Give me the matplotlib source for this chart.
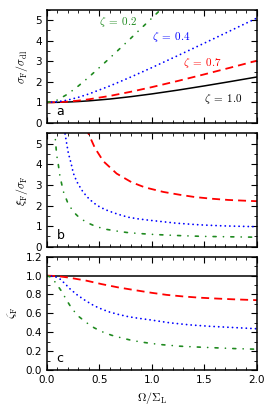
import matplotlib

matplotlib.use("Agg")

import matplotlib.pyplot as plt
from matplotlib.ticker import FormatStrFormatter, MultipleLocator

# panel a: sigma_F / sigma_dl
a_x = [0.0, 0.1, 0.2, 0.3, 0.4, 0.6, 0.8, 1.0, 1.25, 1.5, 1.75, 2.0]
a_z10 = [1.0, 1.005, 1.02, 1.044, 1.077, 1.166, 1.281, 1.414, 1.60, 1.803, 2.016, 2.236]
a_z07 = [1.0, 1.010, 1.040, 1.088, 1.152, 1.317, 1.519, 1.744, 2.047, 2.365, 2.693, 3.027]
a_z04 = [1.0, 1.031, 1.118, 1.25, 1.414, 1.803, 2.236, 2.693, 3.281, 3.881, 4.488, 5.099]
a_z02_x = [0.0, 0.1, 0.2, 0.3, 0.4, 0.6, 0.8, 1.0, 1.25]
a_z02 = [1.0, 1.118, 1.414, 1.803, 2.236, 3.162, 4.123, 5.099, 6.33]

# panel b: xi_F / sigma_F
b_z07_x = [0.38, 0.39, 0.457, 0.537, 0.664, 0.806, 0.933, 1.108, 1.267, 1.41, 1.568, 1.727, 1.9, 2.0]
b_z07 = [5.8, 5.55, 4.79, 4.15, 3.55, 3.13, 2.88, 2.66, 2.52, 2.41, 2.33, 2.27, 2.23, 2.21]
b_z04_x = [0.165, 0.187, 0.203, 0.229, 0.251, 0.283, 0.33, 0.378, 0.441, 0.505, 0.584,
           0.679, 0.775, 0.87, 0.965, 1.235, 1.457, 1.68, 2.0]
b_z04 = [5.7, 5.03, 4.55, 4.06, 3.57, 3.17, 2.76, 2.44, 2.14, 1.92, 1.74,
         1.57, 1.43, 1.35, 1.29, 1.14, 1.06, 1.01, 0.97]
b_z02_x = [0.072, 0.092, 0.108, 0.124, 0.156, 0.197, 0.25, 0.314, 0.394, 0.473, 0.568,
           0.663, 0.76, 0.854, 0.95, 1.03, 1.3, 1.49, 1.68, 2.0]
b_z02 = [5.7, 4.46, 3.98, 3.41, 2.68, 2.14, 1.70, 1.38, 1.14, 0.97, 0.84,
         0.76, 0.69, 0.65, 0.615, 0.59, 0.53, 0.50, 0.485, 0.46]

# panel c: zeta_F
c_z10_x = [0.0, 2.0]
c_z10 = [1.0, 1.0]
c_z07_x = [0.0, 0.1, 0.203, 0.378, 0.521, 0.679, 0.838, 0.997, 1.14, 1.3, 1.457, 1.616, 1.775, 2.0]
c_z07 = [1.0, 0.995, 0.98, 0.946, 0.91, 0.875, 0.846, 0.818, 0.796, 0.779, 0.766, 0.757, 0.749, 0.74]
c_z04_x = [0.0, 0.076, 0.124, 0.171, 0.219, 0.283, 0.346, 0.425, 0.489, 0.584, 0.679,
           0.775, 0.87, 0.965, 1.17, 1.36, 1.55, 1.74, 2.0]
c_z04 = [1.0, 0.99, 0.964, 0.915, 0.86, 0.80, 0.75, 0.696, 0.66, 0.618, 0.589,
         0.565, 0.548, 0.534, 0.50, 0.478, 0.463, 0.452, 0.437]
c_z02_x = [0.0, 0.044, 0.092, 0.14, 0.187, 0.235, 0.298, 0.378, 0.451, 0.537, 0.616,
           0.711, 0.806, 0.901, 0.981, 1.076, 1.267, 1.457, 1.648, 1.806, 2.0]
c_z02 = [1.0, 0.98, 0.91, 0.832, 0.74, 0.654, 0.571, 0.50, 0.446, 0.40, 0.368,
         0.34, 0.314, 0.296, 0.283, 0.27, 0.252, 0.242, 0.233, 0.226, 0.22]

GREEN = "#1f8a1f"
STYLES = {
    "1.0": dict(color="black", linestyle="-", linewidth=1.1),
    "0.7": dict(color="red", linestyle=(0, (4.4, 2.8)), linewidth=1.3),
    "0.4": dict(color="blue", linestyle=(0, (0.05, 2.5)), linewidth=1.3,
                dash_capstyle="round"),
    "0.2": dict(color=GREEN, linestyle=(0, (1.8, 4.4, 0.05, 4.4)), linewidth=1.2,
                dash_capstyle="round"),
}

plt.rcParams.update({
    "font.family": "DejaVu Sans",
    "font.size": 7.5,
    "mathtext.fontset": "cm",
    "xtick.direction": "in",
    "ytick.direction": "in",
    "xtick.top": True,
    "ytick.right": True,
    "xtick.major.size": 4,
    "ytick.major.size": 4,
    "xtick.minor.size": 2,
    "ytick.minor.size": 2,
    "axes.linewidth": 1.1,
})

fig = plt.figure(figsize=(2.74, 4.11), dpi=100)
left, width, height = 0.1715, 0.766, 0.2755
ax_a = fig.add_axes([left, 0.7007, width, height])
ax_b = fig.add_axes([left, 0.3998, width, height])
ax_c = fig.add_axes([left, 0.0998, width, height])

ax_a.plot(a_x, a_z10, **STYLES["1.0"])
ax_a.plot(a_x, a_z07, **STYLES["0.7"])
ax_a.plot(a_x, a_z04, **STYLES["0.4"])
ax_a.plot(a_z02_x, a_z02, **STYLES["0.2"])
ax_a.text(0.5, 4.92, r"$\zeta\;=\;0.2$", color=GREEN, fontsize=8, va="center")
ax_a.text(1.0, 4.19, r"$\zeta\;=\;0.4$", color="blue", fontsize=8, va="center")
ax_a.text(1.3, 2.9, r"$\zeta\;=\;0.7$", color="red", fontsize=8, va="center")
ax_a.text(1.5, 1.17, r"$\zeta\;=\;1.0$", color="black", fontsize=8, va="center")
ax_a.set_ylim(0, 5.5)
ax_a.set_ylabel(r"$\sigma_{\rm F}/\sigma_{\rm dl}$", fontsize=8.5)

ax_b.plot(b_z07_x, b_z07, **STYLES["0.7"])
ax_b.plot(b_z04_x, b_z04, **STYLES["0.4"])
ax_b.plot(b_z02_x, b_z02, **STYLES["0.2"])
ax_b.set_ylim(0, 5.5)
ax_b.set_ylabel(r"$\xi_{\rm F}/\sigma_{\rm F}$", fontsize=8.5)

ax_c.plot(c_z10_x, c_z10, **STYLES["1.0"])
ax_c.plot(c_z07_x, c_z07, **STYLES["0.7"])
ax_c.plot(c_z04_x, c_z04, **STYLES["0.4"])
ax_c.plot(c_z02_x, c_z02, **STYLES["0.2"])
ax_c.set_ylim(0, 1.2)
ax_c.set_ylabel(r"$\zeta_{\rm F}$", fontsize=8.5)
ax_c.set_xlabel(r"$\Omega/\Sigma_{\rm L}$", fontsize=8.5)

for ax, letter in [(ax_a, "a"), (ax_b, "b"), (ax_c, "c")]:
    ax.set_xlim(0, 2.0)
    ax.xaxis.set_major_locator(MultipleLocator(0.5))
    ax.xaxis.set_minor_locator(MultipleLocator(0.1))
    ax.text(0.045, 0.07, letter, transform=ax.transAxes, fontsize=9)
    if ax is not ax_c:
        ax.tick_params(labelbottom=False)
        ax.yaxis.set_major_locator(MultipleLocator(1))
        ax.yaxis.set_minor_locator(MultipleLocator(0.5))
    else:
        ax.yaxis.set_major_locator(MultipleLocator(0.2))
        ax.yaxis.set_minor_locator(MultipleLocator(0.1))
        ax.xaxis.set_major_formatter(FormatStrFormatter("%.1f"))
        ax.yaxis.set_major_formatter(FormatStrFormatter("%.1f"))

fig.savefig("out.png", dpi=100)
